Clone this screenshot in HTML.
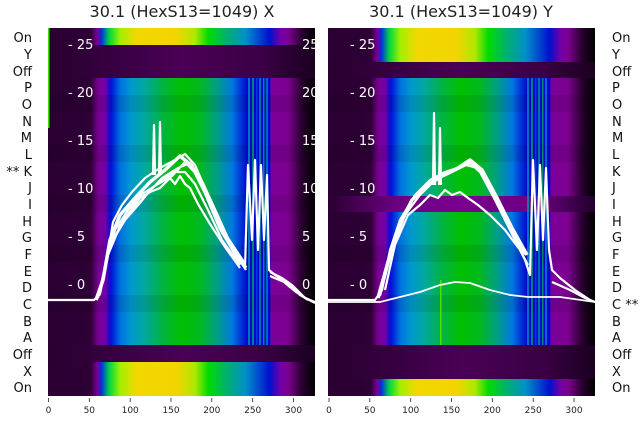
<!DOCTYPE html>
<html><head><meta charset="utf-8"><style>
html,body{margin:0;padding:0;background:#fff;}
svg{display:block;font-family:"DejaVu Sans","Liberation Sans",sans-serif;}
</style></head><body>
<svg width="640" height="440" viewBox="0 0 640 440" xmlns="http://www.w3.org/2000/svg">
<defs>
<linearGradient id="norm" x1="0" x2="1" y1="0" y2="0">
<stop offset="0" stop-color="#2a0032"/>
<stop offset="0.16" stop-color="#2e0036"/>
<stop offset="0.19" stop-color="#7a0095"/>
<stop offset="0.215" stop-color="#7000a8"/>
<stop offset="0.235" stop-color="#0010d8"/>
<stop offset="0.27" stop-color="#0070e0"/>
<stop offset="0.31" stop-color="#0098d0"/>
<stop offset="0.36" stop-color="#00a8a0"/>
<stop offset="0.43" stop-color="#00b440"/>
<stop offset="0.5" stop-color="#00c000"/>
<stop offset="0.57" stop-color="#00b820"/>
<stop offset="0.63" stop-color="#00a080"/>
<stop offset="0.69" stop-color="#0078e0"/>
<stop offset="0.745" stop-color="#0008d0"/>
<stop offset="0.83" stop-color="#0008d0"/>
<stop offset="0.835" stop-color="#7a0098"/>
<stop offset="0.9" stop-color="#7c0090"/>
<stop offset="0.95" stop-color="#2a0030"/>
<stop offset="1" stop-color="#000000"/>
</linearGradient>
<linearGradient id="bright" x1="0" x2="1" y1="0" y2="0">
<stop offset="0" stop-color="#2a0032"/>
<stop offset="0.16" stop-color="#2e0036"/>
<stop offset="0.185" stop-color="#7a0095"/>
<stop offset="0.2" stop-color="#0030e0"/>
<stop offset="0.23" stop-color="#00d840"/>
<stop offset="0.27" stop-color="#a0f000"/>
<stop offset="0.33" stop-color="#f0d800"/>
<stop offset="0.48" stop-color="#f4d400"/>
<stop offset="0.55" stop-color="#b0e800"/>
<stop offset="0.6" stop-color="#00dc00"/>
<stop offset="0.67" stop-color="#00b070"/>
<stop offset="0.74" stop-color="#0090c8"/>
<stop offset="0.83" stop-color="#0010d0"/>
<stop offset="0.87" stop-color="#7000a8"/>
<stop offset="0.9" stop-color="#7c0090"/>
<stop offset="0.95" stop-color="#2a0030"/>
<stop offset="1" stop-color="#000000"/>
</linearGradient>
<linearGradient id="dark" x1="0" x2="1" y1="0" y2="0">
<stop offset="0" stop-color="#28002e"/>
<stop offset="0.3" stop-color="#3a0045"/>
<stop offset="0.5" stop-color="#4a0055"/>
<stop offset="0.8" stop-color="#3a0045"/>
<stop offset="1" stop-color="#1a0020"/>
</linearGradient>
<linearGradient id="darkp" x1="0" x2="1" y1="0" y2="0">
<stop offset="0" stop-color="#2a0030"/>
<stop offset="0.25" stop-color="#6a0080"/>
<stop offset="0.5" stop-color="#7a0090"/>
<stop offset="0.8" stop-color="#6a0080"/>
<stop offset="1" stop-color="#200028"/>
</linearGradient>
<clipPath id="cl"><rect x="48" y="28" width="267" height="368"/></clipPath>
<clipPath id="cr"><rect x="328" y="28" width="267" height="368"/></clipPath>
</defs>

<text x="182" y="17" font-size="16" text-anchor="middle" fill="#222">30.1 (HexS13=1049) X</text>
<text x="461" y="17" font-size="16" text-anchor="middle" fill="#222">30.1 (HexS13=1049) Y</text>

<!-- LEFT PANEL -->
<g clip-path="url(#cl)">
<rect x="48" y="28" width="267" height="368" fill="url(#norm)"/>
<g fill="#000" opacity="0.08">
<rect x="48" y="95" width="267" height="17"/><rect x="48" y="145" width="267" height="17"/>
<rect x="48" y="195" width="267" height="17"/><rect x="48" y="245" width="267" height="17"/>
<rect x="48" y="295" width="267" height="17"/>
</g>
<rect x="48" y="28" width="267" height="17" fill="url(#bright)"/>
<rect x="48" y="45" width="267" height="33" fill="url(#dark)"/>
<rect x="48" y="345" width="267" height="17" fill="url(#dark)"/>
<rect x="48" y="362" width="267" height="34" fill="url(#bright)"/>
<g opacity="0.7">
<rect x="248" y="78" width="2" height="267" fill="#00a0c0"/>
<rect x="252" y="78" width="2" height="267" fill="#00b060"/>
<rect x="256" y="78" width="1.5" height="267" fill="#0050e0"/>
<rect x="259" y="78" width="2" height="267" fill="#00a0a0"/>
<rect x="263" y="78" width="1.5" height="267" fill="#00c040"/>
<rect x="266" y="78" width="2" height="267" fill="#0090d0"/>
</g>
<rect x="48" y="28" width="1.5" height="100" fill="#40e000"/>
<g fill="#fff" font-size="13">
<text x="68" y="49">- 25</text><text x="68" y="97">- 20</text><text x="68" y="145">- 15</text>
<text x="68" y="193">- 10</text><text x="68" y="241">- 5</text><text x="68" y="289">- 0</text>
<text x="302" y="49">25</text><text x="302" y="97">20</text><text x="302" y="145">15</text>
<text x="302" y="193">10</text><text x="302" y="241">5</text><text x="302" y="289">0</text>
</g>
<g fill="none" stroke="#fff" stroke-width="2.2" stroke-linejoin="round">
<polyline points="48,300 94,300 100,294 106,265 113,222 122,205 132,192 145,178 160,168 175,160 185,154 195,165 208,195 222,230 238,258 245,268 248,165 252,240 255,160 258,250 261,165 264,240 267,175 269,270 275,275 290,285 300,295 315,303"/>
<polyline points="96,300 103,280 110,240 120,215 135,198 150,182 165,170 180,156 192,166 205,192 220,228 236,255 246,268" stroke-width="3.5"/>
<polyline points="98,298 106,262 115,230 128,210 142,194 158,184 172,176 185,162 198,176 212,203 228,238 244,262"/>
<polyline points="100,292 110,245 125,220 140,203 152,188 165,178 175,172 185,172 195,184 208,210 222,240 240,265"/>
<polyline points="110,245 125,218 140,198 150,192 160,188 170,178 175,184 180,176 185,184 190,188 198,204 210,224 225,247 240,268"/>
<polyline points="99,296 108,255 120,226 133,210 147,194 162,178 178,168 190,163 203,183 218,216 232,248 246,270"/>
<polyline points="270,272 282,278 292,285 305,298 315,302"/>
<polyline points="270,276 284,282 296,292 308,300"/>
<polyline points="153,175 154,125 155,175"/>
<polyline points="159,175 160,122 161,175"/>
</g>
</g>
<g fill="#111" font-size="13" text-anchor="end">
<text x="32" y="42">On</text><text x="32" y="59">Y</text><text x="32" y="76">Off</text>
<text x="32" y="92">P</text><text x="32" y="109">O</text><text x="32" y="126">N</text>
<text x="32" y="142">M</text><text x="32" y="159">L</text><text x="32" y="176">** K</text>
<text x="32" y="192">J</text><text x="32" y="209">I</text><text x="32" y="226">H</text>
<text x="32" y="242">G</text><text x="32" y="259">F</text><text x="32" y="276">E</text>
<text x="32" y="292">D</text><text x="32" y="309">C</text><text x="32" y="326">B</text>
<text x="32" y="342">A</text><text x="32" y="359">Off</text><text x="32" y="376">X</text>
<text x="32" y="392">On</text>
</g>
<g stroke="#222" stroke-width="0.8">
<line x1="48.5" y1="398" x2="48.5" y2="402"/><line x1="89.3" y1="398" x2="89.3" y2="402"/>
<line x1="130.2" y1="398" x2="130.2" y2="402"/><line x1="171" y1="398" x2="171" y2="402"/>
<line x1="211.8" y1="398" x2="211.8" y2="402"/><line x1="252.7" y1="398" x2="252.7" y2="402"/>
<line x1="293.5" y1="398" x2="293.5" y2="402"/>
</g>
<g fill="#222" font-size="9" text-anchor="middle">
<text x="48.5" y="413">0</text><text x="89.3" y="413">50</text><text x="130.2" y="413">100</text>
<text x="171" y="413">150</text><text x="211.8" y="413">200</text><text x="252.7" y="413">250</text>
<text x="293.5" y="413">300</text>
</g>

<!-- RIGHT PANEL -->
<g clip-path="url(#cr)">
<rect x="328" y="28" width="267" height="368" fill="url(#norm)"/>
<g fill="#000" opacity="0.08">
<rect x="328" y="95" width="267" height="17"/><rect x="328" y="145" width="267" height="17"/>
<rect x="328" y="245" width="267" height="17"/><rect x="328" y="295" width="267" height="17"/>
</g>
<rect x="328" y="28" width="267" height="34" fill="url(#bright)"/>
<rect x="328" y="62" width="267" height="16" fill="url(#dark)"/>
<rect x="328" y="196" width="267" height="16" fill="url(#darkp)"/>
<rect x="328" y="345" width="267" height="34" fill="url(#dark)"/>
<rect x="328" y="379" width="267" height="17" fill="url(#bright)"/>
<g opacity="0.7">
<rect x="527" y="78" width="2" height="267" fill="#00a0c0"/>
<rect x="531" y="78" width="2" height="267" fill="#00b060"/>
<rect x="535" y="78" width="1.5" height="267" fill="#0050e0"/>
<rect x="538" y="78" width="2" height="267" fill="#00a0a0"/>
<rect x="542" y="78" width="1.5" height="267" fill="#00c040"/>
<rect x="545" y="78" width="2" height="267" fill="#0090d0"/>
</g>
<rect x="440" y="280" width="1.5" height="65" fill="#50e000"/>
<g fill="#fff" font-size="13">
<text x="350" y="49">- 25</text><text x="350" y="97">- 20</text><text x="350" y="145">- 15</text>
<text x="350" y="193">- 10</text><text x="350" y="241">- 5</text><text x="350" y="289">- 0</text>
</g>
<g fill="none" stroke="#fff" stroke-width="2.2" stroke-linejoin="round">
<polyline points="328,300 375,300 382,290 390,250 400,220 415,195 430,180 445,172 460,167 470,163 480,172 495,200 510,230 525,260 530,275 533,160 537,250 540,165 543,240 546,168 549,250 552,270 560,278 575,290 590,300 595,302"/>
<polyline points="378,298 388,262 398,228 412,200 428,185 442,176 458,168 470,160 482,170 497,198 512,228 527,255" stroke-width="3.5"/>
<polyline points="380,296 392,250 405,215 420,195 435,180 452,172 466,165 478,168 492,190 508,222 524,255"/>
<polyline points="385,290 395,245 408,215 420,205 430,195 438,198 445,190 452,195 460,192 468,198 478,205 490,215 505,230 520,250 528,265"/>
<polyline points="328,302 380,302 400,297 420,292 440,285 455,282 470,283 490,290 510,295 528,297 560,297 595,302" stroke-width="1.8"/>
<polyline points="552,282 570,290 585,298 595,302"/>
<polyline points="433,185 434,113 435,185"/>
<polyline points="439,185 440,128 441,185"/>
</g>
</g>
<g fill="#111" font-size="13">
<text x="612" y="42">On</text><text x="612" y="59">Y</text><text x="612" y="76">Off</text>
<text x="612" y="92">P</text><text x="612" y="109">O</text><text x="612" y="126">N</text>
<text x="612" y="142">M</text><text x="612" y="159">L</text><text x="612" y="176">K</text>
<text x="612" y="192">J</text><text x="612" y="209">I</text><text x="612" y="226">H</text>
<text x="612" y="242">G</text><text x="612" y="259">F</text><text x="612" y="276">E</text>
<text x="612" y="292">D</text><text x="612" y="309">C **</text><text x="612" y="326">B</text>
<text x="612" y="342">A</text><text x="612" y="359">Off</text><text x="612" y="376">X</text>
<text x="612" y="392">On</text>
</g>
<g stroke="#222" stroke-width="0.8">
<line x1="329" y1="398" x2="329" y2="402"/><line x1="369.8" y1="398" x2="369.8" y2="402"/>
<line x1="410.7" y1="398" x2="410.7" y2="402"/><line x1="451.5" y1="398" x2="451.5" y2="402"/>
<line x1="492.3" y1="398" x2="492.3" y2="402"/><line x1="533.2" y1="398" x2="533.2" y2="402"/>
<line x1="574" y1="398" x2="574" y2="402"/>
</g>
<g fill="#222" font-size="9" text-anchor="middle">
<text x="329" y="413">0</text><text x="369.8" y="413">50</text><text x="410.7" y="413">100</text>
<text x="451.5" y="413">150</text><text x="492.3" y="413">200</text><text x="533.2" y="413">250</text>
<text x="574" y="413">300</text>
</g>
</svg>
</body></html>
